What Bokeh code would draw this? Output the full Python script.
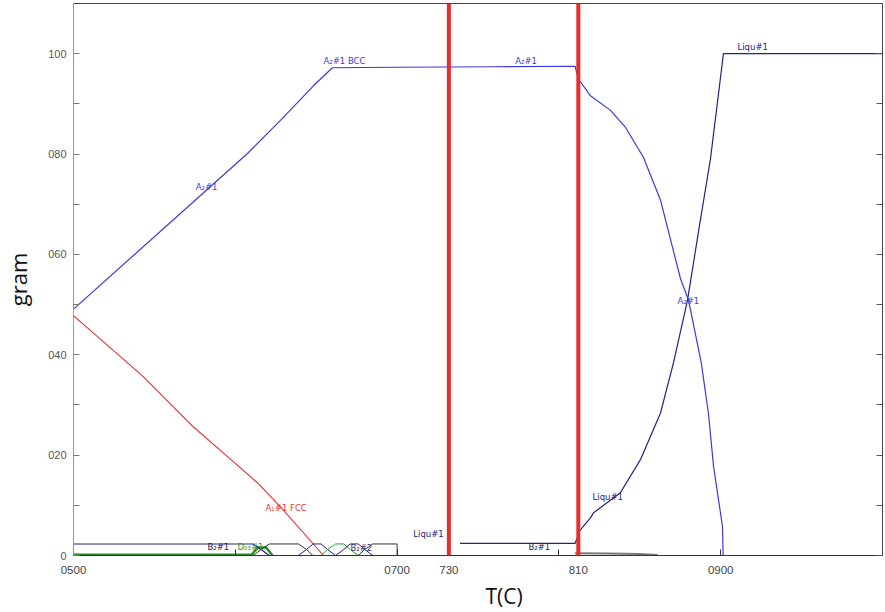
from bokeh.plotting import figure
from bokeh.models import Range1d, LinearAxis, FixedTicker, Span, ColumnDataSource, Title
from bokeh.core.properties import value
from bokeh.embed import file_html
from bokeh.resources import INLINE

# ---------------- data ----------------
# A2#1 (BCC) phase amount
a2_T = [500, 576.6, 607.5, 627.9, 648.3, 660, 700, 760, 810, 812, 819.5, 831.9, 841.2,
        852.3, 862.8, 875.2, 880.1, 888, 892.4, 895.6, 901.1, 901.5]
a2_m = [49.1, 71.2, 80.1, 86.7, 93.6, 97.2, 97.3, 97.4, 97.5, 95.0, 91.6, 88.7, 85.3,
        79.3, 70.8, 55.1, 50.9, 38.4, 28.4, 17.7, 5.8, 0.0]

# Liquid#1
liq_T = [739, 810, 813, 819.5, 821.4, 838, 850.4, 862.8, 870.8, 879.5, 887, 893.7, 901.7, 1000]
liq_m = [2.4, 2.4, 5.0, 7.5, 8.5, 12.5, 19.1, 28.4, 38.4, 50.9, 66.0, 79.1, 100.0, 100.0]

# A1#1 (FCC)
fcc_T = [500, 543.3, 574.2, 595.2, 613.7, 627.9, 654.5]
fcc_m = [47.8, 35.6, 25.6, 19.7, 14.5, 9.7, 0.0]

# B2#1 and minor phases near zero
b2_T = [500, 611, 616, 621]
b2_m = [2.3, 2.3, 1.2, 0.0]
ph2_T = [611, 616, 621, 639, 644, 648]
ph2_m = [0.0, 1.2, 2.3, 2.3, 1.2, 0.0]
ph3_T = [639, 644, 648, 653, 657, 662]
ph3_m = [0.0, 1.2, 2.3, 2.3, 1.2, 0.0]
ph4_T = [653, 657, 662, 667, 671, 676]
ph4_m = [0.0, 1.2, 2.3, 2.3, 1.2, 0.0]
ph5_T = [662, 667, 671, 676, 680, 685]
ph5_m = [0.0, 1.2, 2.3, 2.3, 1.2, 0.0]
ph6_T = [676, 680, 685, 700, 700]
ph6_m = [0.0, 1.2, 2.3, 2.3, 0.0]
d03_T = [500, 610, 614, 619, 623]
d03_m = [0.15, 0.15, 1.6, 1.6, 0.0]
b2b_T = [739, 810]
b2b_m = [2.4, 2.4]
tail_T = [810, 830, 850, 861]
tail_m = [0.45, 0.4, 0.3, 0.1]

# vertical marker temperatures and their labels
marker_T = [732, 812]
marker_label = ["730", "810"]

# curve labels
lab_text = ["A\u2082#1", "A\u2082#1 BCC", "A\u2082#1", "Liqu#1", "A\u2082#1", "Liqu#1",
            "A\u2081#1 FCC", "B\u2082#1", "D\u2080\u2083#1", "B\u2082#2", "Liqu#1", "B\u2082#1"]
lab_T = [575.5, 654.5, 773, 910.4, 873.3, 820.8, 618.7, 582.8, 601.4, 671.2, 710, 781.2]
lab_m = [73.4, 98.6, 98.6, 101.3, 50.7, 11.7, 9.5, 1.6, 1.6, 1.4, 4.2, 1.6]
lab_color = ["#3a3ae0", "#3a3ae0", "#3a3ae0", "#22228a", "#3a3ae0", "#22228a",
             "#e83030", "#222244", "#2a9a2a", "#333366", "#22228a", "#222244"]

# tick labels
y_ticks = [0, 10, 20, 30, 40, 50, 60, 70, 80, 90, 100]
y_tick_labels = ["0", "", "020", "", "040", "", "060", "", "080", "", "100"]
x_ticks = [500, 600, 700, 800, 900]
x_tick_labels = ["0500", "", "0700", "", "0900"]

# ---------------- figure ----------------
p = figure(width=885, height=612, output_backend="svg", toolbar_location=None,
           x_range=Range1d(500, 1000), y_range=Range1d(0, 110),
           min_border_left=73, min_border_right=3, min_border_top=3, min_border_bottom=56)
p.grid.visible = False
p.outline_line_color = "#444444"
p.background_fill_color = "white"

all_x_ticks = sorted(x_ticks + marker_T)
all_x_labels = dict(zip(x_ticks, x_tick_labels))
all_x_labels.update(dict(zip(marker_T, marker_label)))

xa = p.xaxis[0]
xa.ticker = FixedTicker(ticks=all_x_ticks)
xa.major_label_overrides = {t: all_x_labels[t] for t in all_x_ticks}
xa.major_tick_in = 6
xa.major_tick_out = 0
xa.minor_tick_line_color = None
xa.major_label_text_font = "Liberation Sans"
xa.major_label_text_font_size = "11.5px"
xa.major_label_text_color = "#444444"
xa.major_label_standoff = 10
xa.axis_line_color = "#333333"
xa.major_tick_line_color = "#333333"

ya = p.yaxis[0]
ya.ticker = FixedTicker(ticks=y_ticks)
ya.major_label_overrides = {t: s for t, s in zip(y_ticks, y_tick_labels)}
ya.major_tick_in = 6
ya.major_tick_out = 0
ya.minor_tick_line_color = None
ya.major_label_text_font = "Liberation Sans"
ya.major_label_text_font_size = "11px"
ya.major_label_text_color = "#555555"
ya.major_label_standoff = 7
ya.axis_line_color = "#999999"
ya.major_tick_line_color = "#777777"
ya.axis_label = "gram"
ya.axis_label_text_font = "Open Sans"
ya.axis_label_text_font_size = "22px"
ya.axis_label_text_font_style = "normal"
ya.axis_label_text_color = "#111111"
ya.axis_label_standoff = 12

ra = LinearAxis(ticker=FixedTicker(ticks=y_ticks), major_tick_in=6, major_tick_out=0,
                minor_tick_line_color=None, major_label_text_font_size="0px",
                major_label_standoff=0, axis_line_color="#444444",
                major_tick_line_color="#555555")
p.add_layout(ra, "right")

p.add_layout(Title(text="T(C)", align="left", offset=412, standoff=6,
                   text_font="Open Sans", text_font_size="21px",
                   text_font_style="normal", text_color="#111111"), "below")

# lines
p.line(fcc_T, fcc_m, line_color="#e83030", line_width=1.1)
p.line(d03_T, d03_m, line_color="#2a8a2a", line_width=2.5)
p.line(b2_T, b2_m, line_color="#22228a", line_width=1.1)
p.line(ph2_T, ph2_m, line_color="#333333", line_width=1)
p.line(ph3_T, ph3_m, line_color="#22228a", line_width=1)
p.line(ph4_T, ph4_m, line_color="#2a9a2a", line_width=1)
p.line(ph5_T, ph5_m, line_color="#22228a", line_width=1)
p.line(ph6_T, ph6_m, line_color="#333333", line_width=1)
p.line(tail_T, tail_m, line_color="#777777", line_width=2)
p.line(b2b_T, b2b_m, line_color="#22228a", line_width=1.1)
p.line(liq_T, liq_m, line_color="#22228a", line_width=1.2)
p.line(a2_T, a2_m, line_color="#3a3ae0", line_width=1.2)

for t in marker_T:
    p.add_layout(Span(location=t, dimension="height", line_color="#ee2b2b", line_width=4))

src = ColumnDataSource(dict(x=lab_T, y=lab_m, t=lab_text, c=lab_color))
p.text(x="x", y="y", text="t", text_color="c", source=src,
       text_font=value("DejaVu Sans"), text_font_size="8.5px",
       text_align="left", text_baseline="middle")

open("out.html", "w").write(file_html(p, INLINE))
